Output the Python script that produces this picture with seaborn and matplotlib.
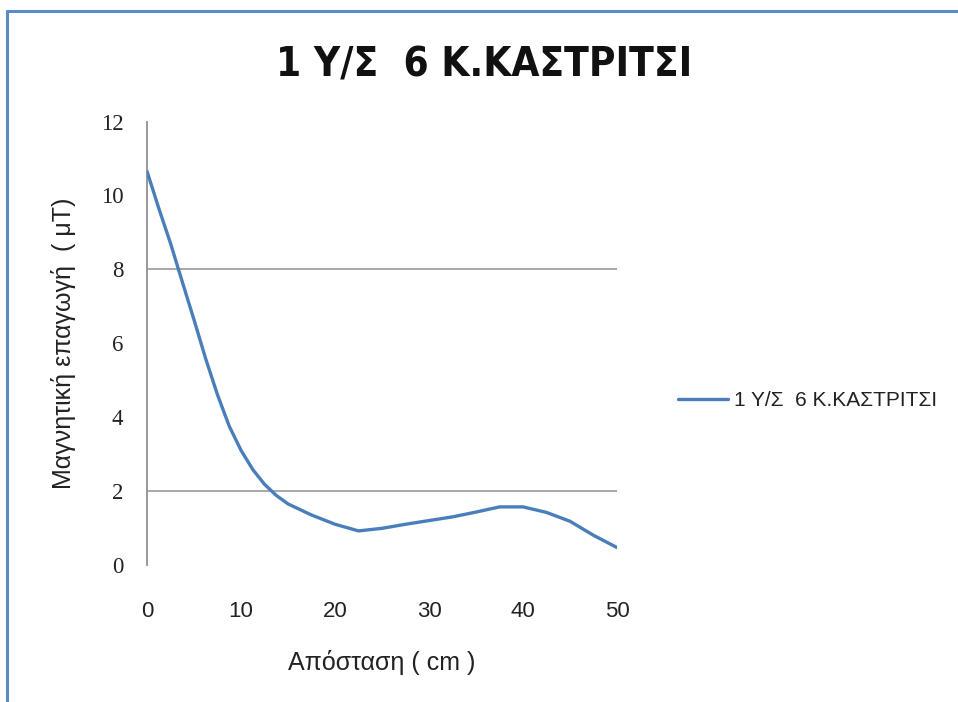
import matplotlib
matplotlib.use("Agg")
import matplotlib.pyplot as plt
from matplotlib.lines import Line2D
import seaborn as sns
import pandas as pd

distance_cm = [0, 1.25, 2.5, 3.75, 5, 6.25, 7.5, 8.75, 10, 11.25, 12.5, 13.75, 15,
               17.5, 20, 22.5, 25, 27.5, 30, 32.5, 35, 37.5, 40, 42.5, 45, 47.5, 50]
field_uT = [10.65, 9.65, 8.7, 7.66, 6.63, 5.57, 4.6, 3.75, 3.1, 2.58, 2.18, 1.88, 1.65,
            1.35, 1.1, 0.92, 0.99, 1.1, 1.2, 1.3, 1.43, 1.57, 1.57, 1.42, 1.18, 0.8, 0.47]
series_name = "1 Υ/Σ  6 Κ.ΚΑΣΤΡΙΤΣΙ"
title_text = "1 Υ/Σ  6 Κ.ΚΑΣΤΡΙΤΣΙ"
x_label = "Απόσταση ( cm )"
y_label = "Μαγνητική επαγωγή  ( μΤ)"
x_ticks = [0, 10, 20, 30, 40, 50]
y_ticks = [0, 2, 4, 6, 8, 10, 12]
grid_levels = [2, 8]

df = pd.DataFrame({"x": distance_cm, "y": field_uT, "s": series_name})

sns.set_theme(style="white")
plt.rcParams['font.family'] = ['Liberation Sans', 'DejaVu Sans']

fig = plt.figure(figsize=(9.58, 7.02), dpi=100)
ax = fig.add_axes([0.1535, 0.1953, 0.4906, 0.6316])

line_color = "#4A7EBB"
sns.lineplot(data=df, x="x", y="y", hue="s", palette=[line_color], linewidth=2.4,
             ax=ax, legend=False, zorder=3)
for ln in ax.lines:
    ln.set_solid_joinstyle("round")
    ln.set_solid_capstyle("round")

for g in grid_levels:
    ax.axhline(g, color="#A0A0A0", linewidth=1.3, zorder=1)

ax.set_xlim(0, 50)
ax.set_ylim(0, 12)
ax.set_xticks(x_ticks)
ax.set_yticks(y_ticks)
ax.set_xticklabels([str(t) for t in x_ticks], fontsize=16, color="#222222",
                   family=['Liberation Sans', 'DejaVu Sans'])
ax.set_yticklabels([str(t) for t in y_ticks], fontsize=16.5, color="#222222",
                   family=['Liberation Serif', 'DejaVu Serif'])
ax.tick_params(axis='x', length=0, pad=26)
ax.tick_params(axis='y', length=0, pad=17)

for side in ["top", "right", "bottom"]:
    ax.spines[side].set_visible(False)
ax.spines["left"].set_color("#909090")
ax.spines["left"].set_linewidth(1.3)

ax.set_xlabel(x_label, fontsize=18, color="#222222", labelpad=20,
              family=['Liberation Sans', 'DejaVu Sans'])
ax.set_ylabel(y_label, fontsize=18, color="#222222", labelpad=18,
              family=['Liberation Sans', 'DejaVu Sans'])

fig.text(0.505, 0.907, title_text, ha="center", va="center", fontsize=29,
         fontweight="bold", color="#111111",
         family=['DejaVu Sans'], fontstretch="condensed")

handle = Line2D([0], [0], color=line_color, linewidth=2.4)
leg = fig.legend([handle], [series_name], loc="center left",
                 bbox_to_anchor=(0.688, 0.429), frameon=False, fontsize=15,
                 handlelength=2.4, handletextpad=0.3)
for t in leg.get_texts():
    t.set_color("#222222")

# chart-area border (top and left edges visible in reference)
border = "#5B8AC6"
fig.add_artist(Line2D([0.007, 1.0], [0.984, 0.984], color=border, linewidth=2.2,
                      transform=fig.transFigure))
fig.add_artist(Line2D([0.007, 0.007], [0.0, 0.984], color=border, linewidth=2.2,
                      transform=fig.transFigure))

fig.savefig("out.png", dpi=100, facecolor="white")
